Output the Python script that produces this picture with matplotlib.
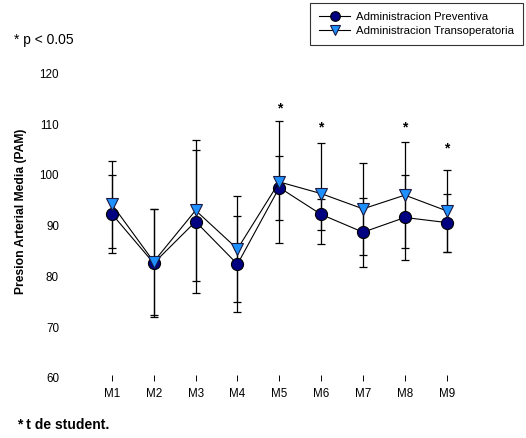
import matplotlib
matplotlib.use("Agg")
import matplotlib.pyplot as plt

plt.rcParams['font.family'] = ['Liberation Sans', 'DejaVu Sans']

# momentos de medicion
momentos = ['M1', 'M2', 'M3', 'M4', 'M5', 'M6', 'M7', 'M8', 'M9']

# Administracion Preventiva (media, DE)
prev_media = [92.3, 82.6, 90.8, 82.4, 97.5, 92.2, 88.7, 91.6, 90.6]
prev_de = [7.7, 10.6, 14.0, 9.4, 6.3, 3.0, 6.8, 8.3, 5.7]

# Administracion Transoperatoria (media, DE)
trans_media = [94.2, 82.9, 93.0, 85.4, 98.6, 96.3, 93.3, 96.0, 92.9]
trans_de = [8.6, 10.4, 13.9, 10.5, 12.0, 10.0, 9.0, 10.5, 8.1]

# asteriscos de significancia (p < 0.05)
sig_momentos = ['M5', 'M6', 'M8', 'M9']
sig_altura = [113.1, 109.3, 109.3, 105.1]

x = list(range(1, len(momentos) + 1))

fig = plt.figure(figsize=(5.26, 4.38), dpi=100)
ax = fig.add_axes([0.157, 0.137, 0.748, 0.719])

ax.errorbar(x, prev_media, yerr=prev_de, fmt='none', ecolor='black',
            elinewidth=0.9, capsize=3.2, capthick=0.9, zorder=2)
ax.errorbar(x, trans_media, yerr=trans_de, fmt='none', ecolor='black',
            elinewidth=0.9, capsize=3.2, capthick=0.9, zorder=2)

ax.plot(x, prev_media, color='black', lw=0.8, marker='o', markersize=8.7,
        markerfacecolor='#000080', markeredgecolor='black', markeredgewidth=0.8,
        label='Administracion Preventiva', zorder=3)
ax.plot(x, trans_media, color='black', lw=0.8, marker='v', markersize=9.2,
        markerfacecolor='#1E90FF', markeredgecolor='#1a1a40', markeredgewidth=0.8,
        label='Administracion Transoperatoria', zorder=4)

# asteriscos
for m, h in zip(sig_momentos, sig_altura):
    ax.text(momentos.index(m) + 1, h, '*', ha='center', va='center',
            fontsize=10, fontweight='bold')

ax.set_xlim(0.3, 8.7 + 1)
ax.set_ylim(60, 122)
ax.set_xticks(x)
ax.set_xticklabels(momentos, fontsize=8.4)
ax.set_yticks([60, 70, 80, 90, 100, 110, 120])
ax.set_yticklabels(['60', '70', '80', '90', '100', '110', '120'], fontsize=8.4)
ax.tick_params(axis='x', direction='inout', length=4, width=0.7, pad=5)
ax.tick_params(axis='y', length=0, pad=17)
for s in ax.spines.values():
    s.set_visible(False)

fig.text(21 / 526, 1 - 211 / 438, 'Presion Arterial Media (PAM)', rotation=90,
         ha='center', va='center', fontsize=8.7, fontweight='bold')

# leyenda
leg = fig.legend(loc='upper right', bbox_to_anchor=(523 / 526, 1 - 3 / 438),
                 fontsize=8.2, frameon=True, fancybox=False, edgecolor='black',
                 handlelength=2.7, borderpad=0.8, labelspacing=0.3,
                 handletextpad=0.5, markerscale=0.8, borderaxespad=0)
leg.get_frame().set_linewidth(0.8)

fig.text(14 / 526, 1 - 40 / 438, '* p < 0.05', ha='left', va='center', fontsize=10)
fig.text(17 / 526, 1 - 425 / 438, '* t de student.', ha='left', va='center',
         fontsize=10, fontweight='bold')

fig.savefig('out.png', dpi=100)
